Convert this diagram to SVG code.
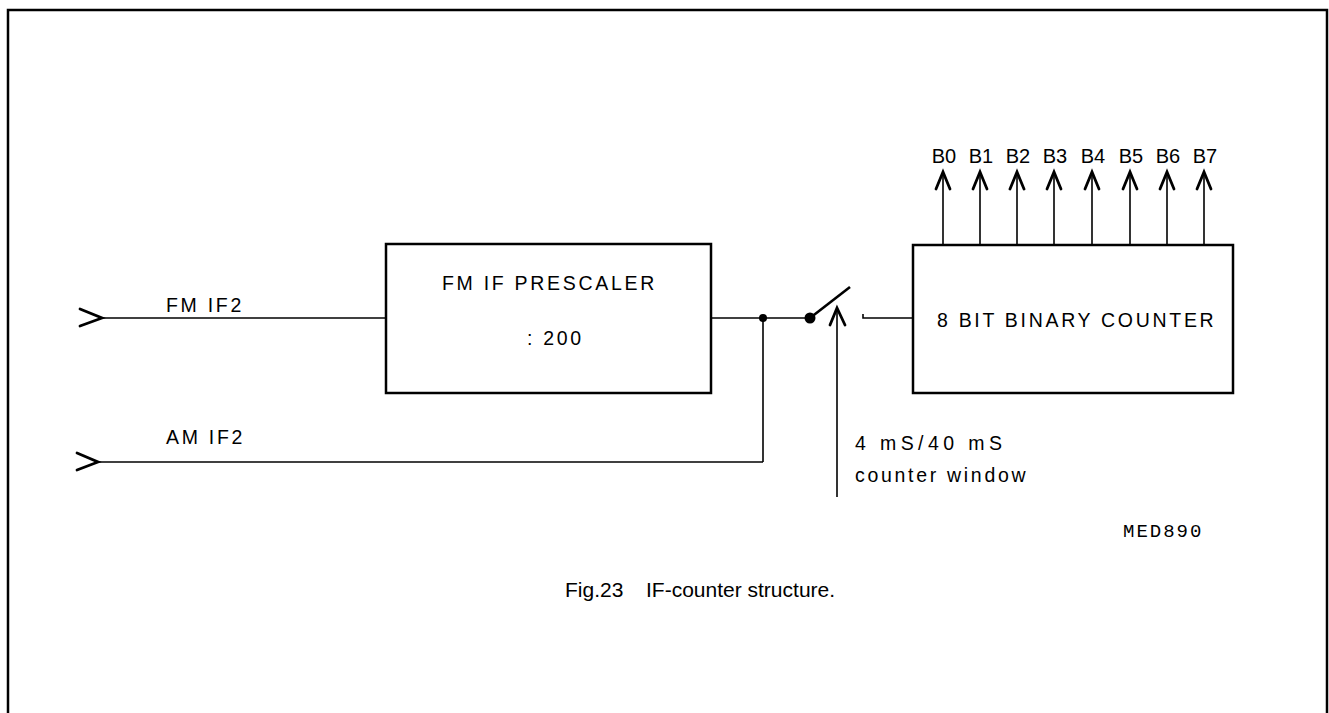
<svg xmlns="http://www.w3.org/2000/svg" width="1329" height="713" viewBox="0 0 1329 713">
<style>
.frame{fill:none;stroke:#000;stroke-width:2.5}
.box{fill:#fff;stroke:#000;stroke-width:2.5}
.wire{fill:none;stroke:#000;stroke-width:1.6}
.head{fill:none;stroke:#000;stroke-width:2.8;stroke-linejoin:miter;stroke-linecap:round}
.t{font-family:"Liberation Sans",Arial,sans-serif;font-size:19.5px;letter-spacing:2.7px;fill:#000}
.b{font-family:"Liberation Sans",Arial,sans-serif;font-size:20px;fill:#000}
.code{font-family:"Liberation Mono","Courier New",monospace;font-size:19px;letter-spacing:2px;fill:#000}
.cap{font-family:"Liberation Sans",Arial,sans-serif;font-size:21px;fill:#000}
</style>
<rect x="0" y="0" width="1329" height="713" fill="#fff"/>
<path class="frame" d="M8,720 V10 H1327 V720"/>

<g id="connectors">
  <line class="wire" x1="102" y1="318" x2="386" y2="318"/>
  <polyline class="head" points="80,309 102,318 80,326"/>
  <line class="wire" x1="98" y1="462" x2="763" y2="462"/>
  <polyline class="head" points="77,453 98,462 77,470"/>
  <line class="wire" x1="711" y1="318" x2="810" y2="318"/>
  <line class="wire" x1="763" y1="318" x2="763" y2="462"/>
  <circle cx="763" cy="318" r="4" fill="#000"/>
  <circle cx="810" cy="318" r="5.5" fill="#000"/>
  <line x1="810" y1="318" x2="850" y2="287" stroke="#000" stroke-width="2.6"/>
  <line class="wire" x1="837" y1="308" x2="837" y2="497"/>
  <polyline class="head" points="830,325 837,308 845,325"/>
  <path class="wire" d="M863,314 V318 H913"/>
  <g id="outputs">
    <line class="wire" x1="943" y1="172" x2="943" y2="245"/>
    <polyline class="head" points="936,189 943,172 950,189"/>
    <line class="wire" x1="980" y1="172" x2="980" y2="245"/>
    <polyline class="head" points="973,189 980,172 987,189"/>
    <line class="wire" x1="1017" y1="172" x2="1017" y2="245"/>
    <polyline class="head" points="1010,189 1017,172 1024,189"/>
    <line class="wire" x1="1054" y1="172" x2="1054" y2="245"/>
    <polyline class="head" points="1047,189 1054,172 1061,189"/>
    <line class="wire" x1="1092" y1="172" x2="1092" y2="245"/>
    <polyline class="head" points="1085,189 1092,172 1099,189"/>
    <line class="wire" x1="1130" y1="172" x2="1130" y2="245"/>
    <polyline class="head" points="1123,189 1130,172 1137,189"/>
    <line class="wire" x1="1167" y1="172" x2="1167" y2="245"/>
    <polyline class="head" points="1160,189 1167,172 1174,189"/>
    <line class="wire" x1="1204" y1="172" x2="1204" y2="245"/>
    <polyline class="head" points="1197,189 1204,172 1211,189"/>
  </g>
</g>

<g id="labels">
  <text class="t" x="166" y="312">FM IF2</text>
  <text class="t" x="166" y="444">AM IF2</text>
  <text class="t" x="855" y="450" style="letter-spacing:4.4px">4 mS/40 mS</text>
  <text class="t" x="855" y="482">counter window</text>
  <text class="b" x="944" y="163" text-anchor="middle">B0</text>
  <text class="b" x="981" y="163" text-anchor="middle">B1</text>
  <text class="b" x="1018" y="163" text-anchor="middle">B2</text>
  <text class="b" x="1055" y="163" text-anchor="middle">B3</text>
  <text class="b" x="1093" y="163" text-anchor="middle">B4</text>
  <text class="b" x="1131" y="163" text-anchor="middle">B5</text>
  <text class="b" x="1168" y="163" text-anchor="middle">B6</text>
  <text class="b" x="1205" y="163" text-anchor="middle">B7</text>
  <text class="code" x="1123" y="537">MED890</text>
  <text class="cap" y="597"><tspan x="565">Fig.23</tspan><tspan x="646">IF-counter structure.</tspan></text>
</g>

<g id="prescaler">
  <rect class="box" x="386" y="244" width="325" height="149"/>
  <text class="t" x="442" y="290">FM IF PRESCALER</text>
  <text class="t" x="527" y="345">: 200</text>
</g>

<g id="counter">
  <rect class="box" x="913" y="245" width="320" height="148"/>
  <text class="t" x="937" y="327">8 BIT BINARY COUNTER</text>
</g>
</svg>
